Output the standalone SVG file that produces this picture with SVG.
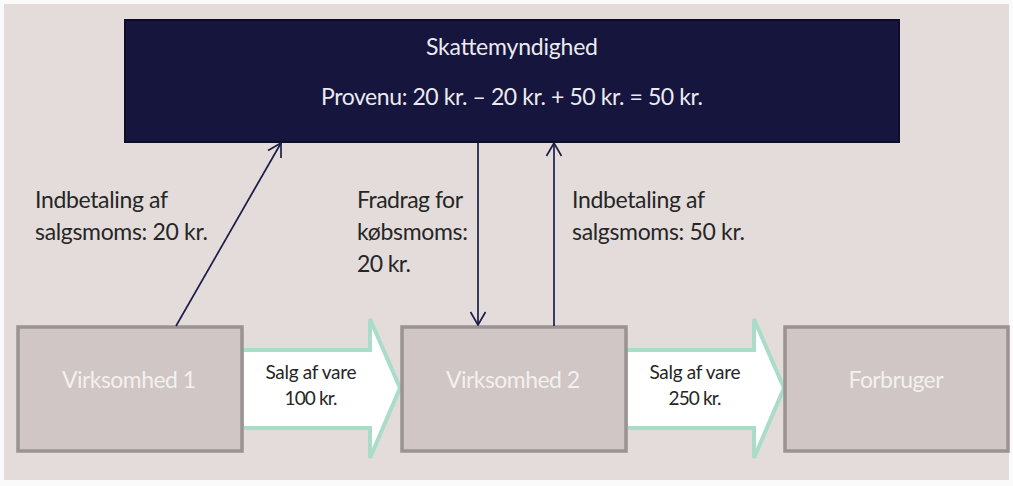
<svg xmlns="http://www.w3.org/2000/svg" width="1013" height="486" viewBox="0 0 1013 486">
<defs>
<style>
text{font-family:Lato,"Open Sans","Liberation Sans",sans-serif}
.box{fill:#cfc6c5;stroke:#9b9292;stroke-width:3.5}
.btxt{fill:#f4f0ef;font-size:23px;text-anchor:middle}
.ttl{fill:#ebeaf0;font-size:23px;text-anchor:middle}
.lbl{fill:#262626;font-size:23px}
.atxt{fill:#262626;font-size:19px;text-anchor:middle}
.flow{fill:#fff;stroke:#a9dcc9;stroke-width:4;stroke-linejoin:miter}
.con{stroke:#1d1d48;stroke-width:1.7;fill:none}
</style>
<marker id="ah" viewBox="-15 -9 16 18" refX="0" refY="0" markerWidth="16" markerHeight="18" markerUnits="userSpaceOnUse" orient="auto">
<path d="M-13,-7.5 L0,0 L-13,7.5" fill="none" stroke="#1d1d48" stroke-width="1.7"/>
</marker>
</defs>
<rect x="0" y="0" width="1013" height="486" fill="#fbfafa"/>
<rect x="4" y="4" width="1005" height="476" fill="#e3dcdb"/>
<g id="skattemyndighed">
<rect x="125" y="20" width="774" height="122" fill="#15153d" stroke="#0d0d28" stroke-width="2"/>
<text class="ttl" x="512" y="55" textLength="172">Skattemyndighed</text>
<text class="ttl" x="512" y="105" textLength="382">Provenu: 20 kr. – 20 kr. + 50 kr. = 50 kr.</text>
</g>
<g id="flow1">
<path class="flow" d="M242,350 H370 V319 L400,388 L370,458 V428 H242 Z"/>
<text class="atxt" x="311" y="379" textLength="91">Salg af vare</text>
<text class="atxt" x="311" y="405" textLength="53">100 kr.</text>
</g>
<g id="flow2">
<path class="flow" d="M626,350 H754 V319 L784,388 L754,458 V428 H626 Z"/>
<text class="atxt" x="695" y="379" textLength="91">Salg af vare</text>
<text class="atxt" x="695" y="405" textLength="53">250 kr.</text>
</g>
<g id="virksomhed1">
<rect class="box" x="18" y="327" width="224" height="124"/>
<text class="btxt" x="129" y="388" textLength="134">Virksomhed 1</text>
</g>
<g id="virksomhed2">
<rect class="box" x="402" y="327" width="224" height="124"/>
<text class="btxt" x="513" y="388" textLength="134">Virksomhed 2</text>
</g>
<g id="forbruger">
<rect class="box" x="785" y="327" width="223" height="124"/>
<text class="btxt" x="896" y="388" textLength="95">Forbruger</text>
</g>
<g id="connectors">
<line class="con" x1="176" y1="326" x2="281" y2="143" marker-end="url(#ah)"/>
<line class="con" x1="478" y1="143" x2="478" y2="325" marker-end="url(#ah)"/>
<line class="con" x1="554" y1="326" x2="554" y2="143" marker-end="url(#ah)"/>
</g>
<g id="labels">
<text class="lbl" x="35" y="208" textLength="133">Indbetaling af</text>
<text class="lbl" x="35" y="240" textLength="173">salgsmoms: 20 kr.</text>
<text class="lbl" x="357" y="208" textLength="106">Fradrag for</text>
<text class="lbl" x="357" y="240" textLength="111">købsmoms:</text>
<text class="lbl" x="357" y="272" textLength="54">20 kr.</text>
<text class="lbl" x="572" y="208" textLength="133">Indbetaling af</text>
<text class="lbl" x="572" y="240" textLength="173">salgsmoms: 50 kr.</text>
</g>
</svg>
